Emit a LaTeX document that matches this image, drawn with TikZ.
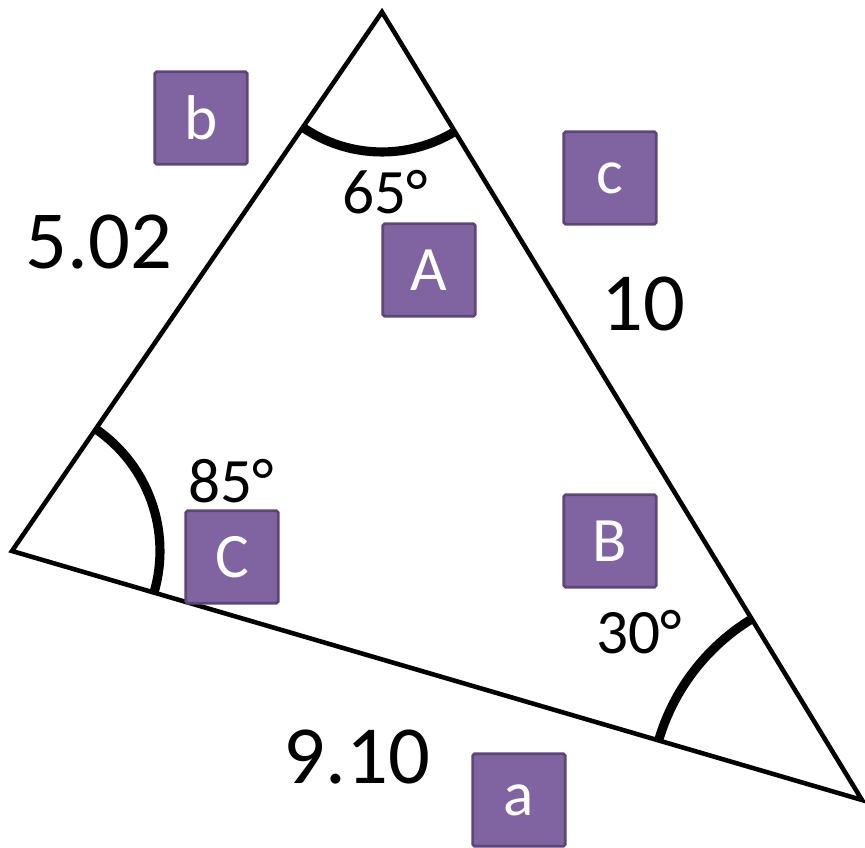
\documentclass[tikz,border=0pt]{standalone}
\usepackage{fontspec}
\setmainfont{Carlito}
\usetikzlibrary{angles}
\definecolor{boxfill}{HTML}{8064A2}
\definecolor{boxedge}{HTML}{5C4776}

\begin{document}
\begin{tikzpicture}[
    x=0.02cm, y=-0.02cm,
    side/.style={line width=2.6pt, line join=miter},
    arcmark/.style={draw, line width=5.2pt},
    lbox/.style={fill=boxfill, draw=boxedge, line width=1.6pt, rounded corners=1pt,
                 minimum size=1.85cm, text=white, font=\fontsize{36}{36}\selectfont},
    valtext/.style={inner sep=0pt, anchor=base, font=\fontsize{47}{47}\selectfont},
    degtext/.style={inner sep=0pt, anchor=base, font=\fontsize{36}{36}\selectfont}
]
\useasboundingbox (0,0) rectangle (865,848);

% corners
\coordinate (T) at (382,12);
\coordinate (L) at (12,551);
\coordinate (R) at (862,800);

\draw[side] (T) -- (L) -- (R) -- cycle;

% angle marks
\pic[arcmark, angle radius=2.8cm] {angle=L--T--R};
\pic[arcmark, angle radius=2.96cm] {angle=R--L--T};
\pic[arcmark, angle radius=4.24cm] {angle=T--R--L};

% side lengths and angles
\node[valtext] (lenb) at (99,268) {5.02};
\node[valtext] (lenc) at (643,330) {10};
\node[valtext] (lena) at (357,783) {9.10};
\node[degtext] (angA) at (385,213) {65°};
\node[degtext] (angC) at (231,502) {85°};
\node[degtext] (angB) at (639,653) {30°};

% name boxes
\node[lbox] (boxb) at (201,118) {b};
\node[lbox] (boxc) at (610,178) {c};
\node[lbox] (boxA) at (429,270) {A};
\node[lbox] (boxC) at (232,557) {C};
\node[lbox] (boxB) at (610,541) {B};
\node[lbox] (boxa) at (519,800) {a};
\end{tikzpicture}
\end{document}
